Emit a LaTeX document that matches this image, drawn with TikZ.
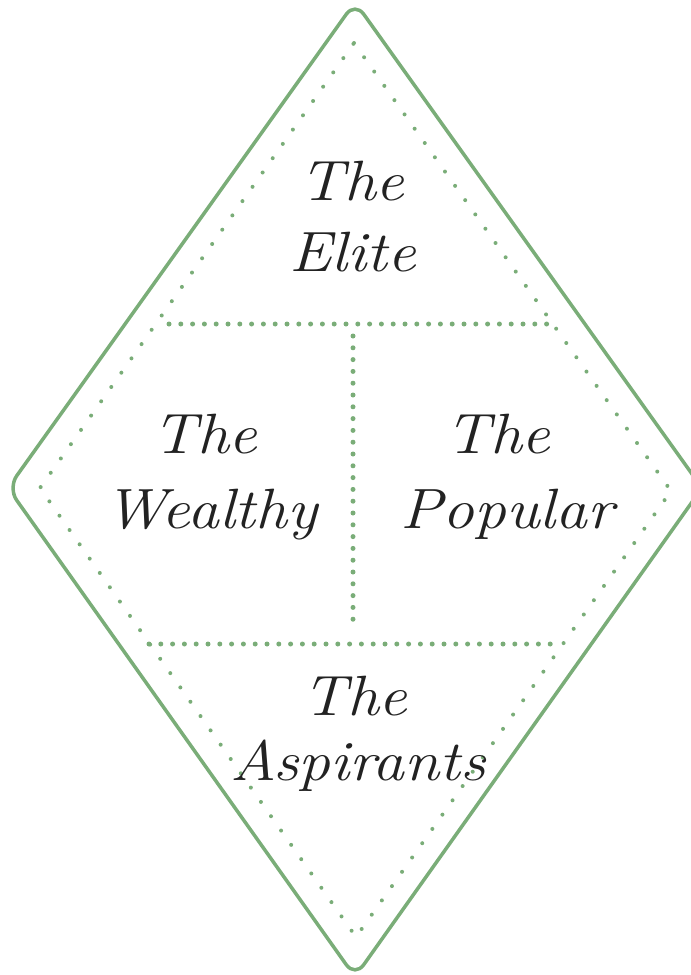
\documentclass[tikz,border=0pt]{standalone}
\usepackage{fontspec}
\newfontfamily\labelfont{Latin Modern Roman}[FakeStretch=1.12]
\definecolor{leaf}{HTML}{7AAD78}
\definecolor{ink}{HTML}{222222}
\tikzset{
  outerline/.style={draw=leaf, line width=3.5bp, rounded corners=15bp, line join=round},
  finedots/.style={draw=leaf, line width=4bp, line cap=round, dash pattern=on 0bp off 17.5bp},
  bigdots/.style={draw=leaf, line width=5bp, line cap=round, dash pattern=on 0bp off 11.8bp},
  label/.style={text=ink, anchor=base, inner sep=0pt, font=\labelfont\fontsize{57}{68}\selectfont\itshape}
}
\begin{document}
\begin{tikzpicture}[x=1bp,y=-1bp]
\useasboundingbox (0,0) rectangle (691,975);
\begin{scope}
\clip (0,0) rectangle (691,975);
\coordinate (T) at (355,2);
\coordinate (L) at (8,488);
\coordinate (B) at (355,977);
\coordinate (R) at (702,488);
\draw[outerline] (T) -- (R) -- (B) -- (L) -- cycle;
\end{scope}
\coordinate (t) at (354,43);
\coordinate (l) at (40,488);
\coordinate (b) at (356,937);
\coordinate (r) at (671,491);
\draw[finedots] (t) -- (r) -- (b) -- (l) -- cycle;
\coordinate (h1a) at (169,324);
\coordinate (h1b) at (555,324);
\coordinate (va) at (353,336);
\coordinate (vb) at (353,630);
\coordinate (h2a) at (149,644);
\coordinate (h2b) at (555,644);
\draw[bigdots] (h1a) -- (h1b);
\draw[bigdots] (va) -- (vb);
\draw[bigdots] (h2a) -- (h2b);
\node[label] (eliteA) at (352,200) {The};
\node[label] (eliteB) at (353,271) {Elite};
\node[label] (wealthyA) at (205,453) {The};
\node[label] (wealthyB) at (211,528) {Wealthy};
\node[label] (popularA) at (498,453) {The};
\node[label] (popularB) at (507,528) {Popular};
\node[label] (aspirantsA) at (355,715) {The};
\node[label] (aspirantsB) at (358,780) {Aspirants};
\end{tikzpicture}
\end{document}
